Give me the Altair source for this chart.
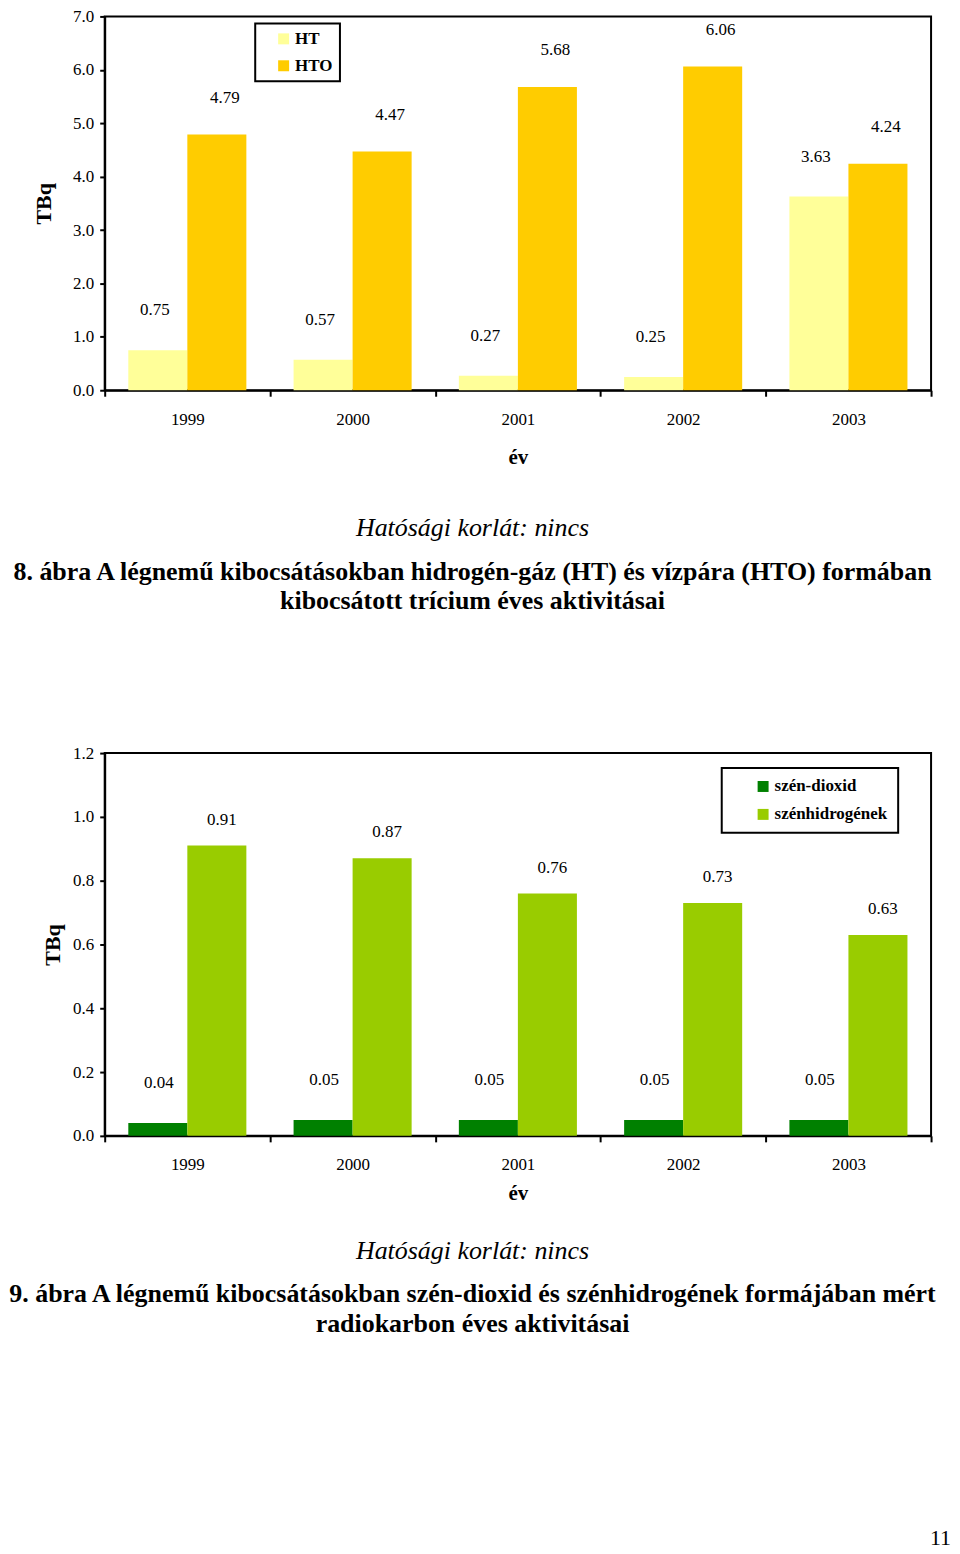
import altair as alt
import pandas as pd

FONT = "Liberation Serif"

years = ["1999", "2000", "2001", "2002", "2003"]

# Chart 8 (tritium)
t_series = ["HT", "HTO"]
t_colors = ["#FFFF99", "#FFCC00"]
ht = [0.75, 0.57, 0.27, 0.25, 3.63]
hto = [4.79, 4.47, 5.68, 6.06, 4.24]
y1_ticks = [0, 1, 2, 3, 4, 5, 6, 7]

# Chart 9 (radiocarbon)
c_series = ["szén-dioxid", "szénhidrogének"]
c_colors = ["#008000", "#99CC00"]
co2 = [0.04, 0.05, 0.05, 0.05, 0.05]
hc = [0.91, 0.87, 0.76, 0.73, 0.63]
y2_ticks = [0, 0.2, 0.4, 0.6, 0.8, 1.0, 1.2]

note = "Hatósági korlát: nincs"
cap1 = ["8. ábra  A légnemű kibocsátásokban hidrogén-gáz (HT) és vízpára (HTO) formában",
        "kibocsátott trícium éves aktivitásai"]
cap2 = ["9. ábra  A légnemű kibocsátásokban szén-dioxid és szénhidrogének formájában mért",
        "radiokarbon éves aktivitásai"]
page_no = "11"
y_title = "TBq"
x_title = "év"


def text_layer(txt, x, y, size, weight="normal", style="normal", align="center"):
    return alt.Chart(pd.DataFrame({"t": [txt]})).mark_text(
        font=FONT, fontSize=size, fontWeight=weight, fontStyle=style,
        align=align, baseline="middle", color="black"
    ).encode(text="t:N", x=alt.value(x), y=alt.value(y))


def anchor(x, y):
    return alt.Chart(pd.DataFrame({"a": [0]})).mark_rule(opacity=0).encode(
        x=alt.value(x), y=alt.value(y), y2=alt.value(y + 1))


def panel(s1, s2, series, colors, ticks, ymax, W, H, legx, legy, leg_pad,
          leg_symoff, leg_rowpad, lab_cfg, x_title_pad, y_title_pad, texts, anchors):
    df = pd.DataFrame({
        "year": years * 2,
        "series": [series[0]] * 5 + [series[1]] * 5,
        "value": s1 + s2,
    })
    base = alt.Chart(df)
    x = alt.X("year:N", sort=years, title=x_title,
              scale=alt.Scale(paddingInner=0, paddingOuter=0),
              axis=alt.Axis(labelAngle=0, tickBand="extent", tickSize=6,
                            tickWidth=2, tickColor="black", domainColor="black",
                            domainWidth=2, labelFont=FONT, labelFontSize=17,
                            labelColor="black", labelPadding=15,
                            titleFont=FONT, titleFontSize=21, titleFontWeight="bold",
                            titleColor="black", titlePadding=x_title_pad, grid=False))
    xo = alt.XOffset("series:N", sort=series,
                     scale=alt.Scale(paddingInner=0, paddingOuter=0.4))
    y = alt.Y("value:Q", scale=alt.Scale(domain=[0, ymax], nice=False, zero=True),
              title=y_title,
              axis=alt.Axis(values=ticks, format=".1f", tickSize=5, tickWidth=2,
                            tickColor="black", domainColor="black", domainWidth=2,
                            labelFont=FONT, labelFontSize=17, labelColor="black",
                            labelPadding=6, titleFont=FONT, titleFontSize=22,
                            titleFontWeight="bold", titleColor="black",
                            titlePadding=y_title_pad, grid=False))
    bars = base.mark_bar().encode(
        x=x, xOffset=xo, y=y,
        color=alt.Color("series:N", sort=series,
                        scale=alt.Scale(domain=series, range=colors),
                        legend=alt.Legend(title=None, orient="none", legendX=legx,
                                          legendY=legy, strokeColor="black",
                                          padding=leg_pad, symbolOffset=leg_symoff,
                                          symbolType="square", symbolSize=121,
                                          symbolStrokeWidth=0, labelFont=FONT,
                                          labelFontSize=17, labelFontWeight="bold",
                                          labelColor="black", labelOffset=3,
                                          rowPadding=leg_rowpad)))
    layers = [bars]
    for s, (dx, dy) in zip(series, lab_cfg):
        layers.append(base.transform_filter(alt.datum.series == s).mark_text(
            font=FONT, fontSize=17, color="black", dx=dx, dy=dy, baseline="middle"
        ).encode(x=x, xOffset=xo, y=y, text=alt.Text("value:Q", format=".2f")))
    layers += texts + anchors
    return alt.layer(*layers).properties(width=W, height=H)


# both plot origins at page x = 103
c1 = panel(ht, hto, t_series, t_colors, y1_ticks, 7, 829, 375,
           151, 7, 7, 13, 9, [(-3, -40), (8, -37)], 19, 17,
           [text_layer(note, 369, 513, 26, style="italic"),
            text_layer(cap1[0], 369, 557, 26, weight="bold"),
            text_layer(cap1[1], 369, 586, 26, weight="bold")],
           [anchor(-95, 100), anchor(0, 609)])

c2 = panel(co2, hc, c_series, c_colors, y2_ticks, 1.2, 829, 384,
           619, 15, 10, 23, 10, [(1, -40), (5, -26)], 10, 8,
           [text_layer(note, 369, 500, 26, style="italic"),
            text_layer(cap2[0], 369, 543, 26, weight="bold"),
            text_layer(cap2[1], 369, 573, 26, weight="bold"),
            text_layer(page_no, 849, 787, 22, align="right")],
           [anchor(-95, 100), anchor(0, -13)])

chart = alt.vconcat(c1, c2, spacing=114).resolve_scale(
    color="independent", x="independent", y="independent", xOffset="independent"
).resolve_legend(color="independent").properties(
    padding={"left": -5, "top": -4, "right": 0, "bottom": 0}, background="white"
).configure_view(
    stroke="black", strokeWidth=2
).configure_legend(strokeWidth=2)

chart.save("out.html", embed_options={"renderer": "svg", "actions": False})
